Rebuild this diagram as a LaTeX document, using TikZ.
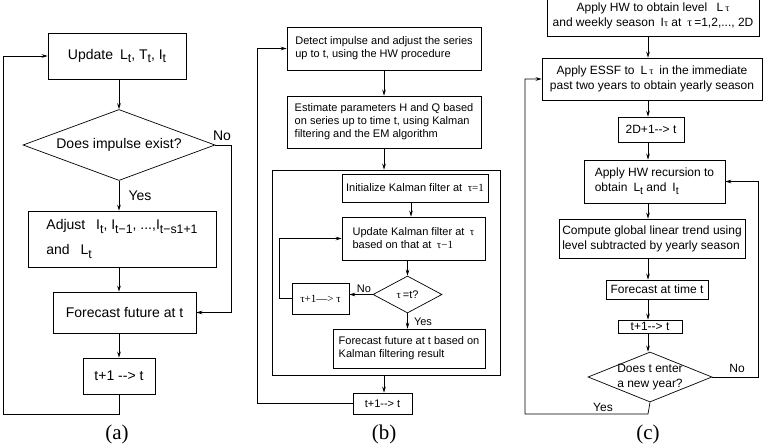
\documentclass[tikz,border=0pt]{standalone}
\usepackage{fontspec}
\usepackage{graphicx}
\setmainfont{Liberation Sans}
\newfontfamily\serf{Liberation Serif}
\usetikzlibrary{shapes.geometric,arrows.meta}
\newcommand{\tu}{{\serf τ}}
\newcommand{\tus}{{\serf\scalebox{0.85}{τ}}}
\newcommand{\sbt}[1]{\raisebox{-0.5ex}{\scalebox{0.88}{#1}}}
\begin{document}
\begin{tikzpicture}[x=1pt,y=-1pt,line width=0.7pt,
  box/.style={draw,rectangle,inner sep=0pt,align=center},
  lbox/.style={draw,rectangle,inner sep=0pt,align=left},
  dia/.style={draw,diamond,inner sep=0pt},
  arr/.style={-{Stealth[length=6pt,width=3.6pt]}},
  fa/.style={font=\fontsize{14}{17}\selectfont},
  fb/.style={font=\fontsize{11}{13}\selectfont},
  fc/.style={font=\fontsize{12}{15}\selectfont},
  captn/.style={font=\serf\fontsize{21}{21}\selectfont}]
\useasboundingbox (0,0) rectangle (766,444);
\clip (0,0) rectangle (766,444);

% ---------- panel (a) ----------
\node[box,fa,minimum width=138,minimum height=46] (a1) at (117,56) {Update\enspace L\sbt{t}, T\sbt{t}, I\sbt{t}};
\node[dia,minimum width=192,minimum height=71] (a2) at (119,145) {};
\node[fa] at (a2) {Does impulse exist?};
\node[lbox,font=\fontsize{14}{25}\selectfont,minimum width=188,minimum height=56] (a3) at (122,239) {Adjust\enspace\ I\sbt{t}, I\sbt{t−1}, ...,I\sbt{t−s1+1}\\and\enspace\ L\sbt{t}};
\node[box,fa,minimum width=143,minimum height=41] (a4) at (124.5,312.5) {Forecast future at t};
\node[box,fa,minimum width=72,minimum height=36] (a5) at (119,376) {t+1 -{}-> t};
\coordinate (aL) at (3,414);
\coordinate (aR) at (231,145);
\draw[arr] (a2.north |- a1.south) -- (a2.north);
\draw[arr] (a2.south) -- (a2.south |- a3.north);
\draw[arr] (a2.south |- a3.south) -- (a2.south |- a4.north);
\draw[arr] (a5.north |- a4.south) -- (a5.north);
\draw[arr] (a2.east) -- (aR) |- (a4.east);
\draw[arr] (a5.south) |- (aL) |- (a1.west);
\node[fa] at (222,136) {No};
\node[fa] at (140,196) {Yes};
\node[captn] at (117,434) {(a)};

% ---------- panel (b) ----------
\node[lbox,fb,minimum width=194,minimum height=43] (b1) at (384,48.5) {Detect impulse and adjust the series\\up to t, using the HW procedure};
\node[lbox,fb,minimum width=194,minimum height=52] (b2) at (384,122) {Estimate parameters H and Q based\\on series up to time t, using Kalman\\filtering and the EM algorithm};
\node[box,minimum width=228,minimum height=205] (b0) at (386,272.5) {};
\node[box,fb,minimum width=146,minimum height=28] (b3) at (415,188) {Initialize Kalman filter at\enspace {\serf τ=1}};
\node[lbox,fb,minimum width=143,minimum height=43] (b4) at (413.5,238.5) {Update Kalman filter at\enspace \tu\\based on that at\enspace {\serf τ−1}};
\node[dia,minimum width=69,minimum height=37] (b5) at (407.5,294.5) {};
\node[fb] at (b5) {\tu\,=t?};
\node[box,fb,minimum width=57,minimum height=31] (b6) at (320.5,298.5) {{\serf τ+1—> τ}};
\node[lbox,fb,minimum width=152,minimum height=39] (b7) at (409,348.5) {Forecast future at t based on\\Kalman filtering result};
\node[box,fb,minimum width=59,minimum height=21] (b8) at (382.5,403.5) {t+1-{}-> t};
\coordinate (bL) at (257,403.5);
\coordinate (bM) at (279,298.5);
\draw[arr] (b1.south) -- (b2.north);
\draw[arr] (b2.south) -- (b2.south |- b0.north);
\draw[arr] (b3.south -| 411,0) -- (b4.north -| 411,0);
\draw[arr] (b5.north |- b4.south) -- (b5.north);
\draw[arr] (b5.west) -- (b5.west -| b6.east);
\draw[arr] (b6.west) -- (bM) |- (b4.west);
\draw[arr] (b5.south) -- (b5.south |- b7.north);
\draw[arr] (b2.south |- b0.south) -- (b2.south |- b8.north);
\draw[arr] (b8.west) -- (bL) |- (b1.west);
\node[fb] at (364,289) {No};
\node[fb] at (423,322) {Yes};
\node[captn] at (384,434) {(b)};

% ---------- panel (c) ----------
\node[box,fc,minimum width=212,minimum height=40] (c1) at (653,16) {Apply HW to obtain level\enspace\ L\,\tus\\and weekly season\enspace I\tus\ at\enspace \tu\,=1,2,..., 2D};
\node[box,fc,minimum width=220,minimum height=42] (c2) at (652,79) {Apply ESSF to\enspace L\,\tus\enspace in the immediate\\past two years to obtain yearly season};
\node[box,fc,minimum width=66,minimum height=25] (c3) at (651,129.5) {2D+1-{}-> t};
\node[lbox,fc,minimum width=141,minimum height=43] (c4) at (654.5,181.5) {Apply HW recursion to\\obtain\enspace L\sbt{t} and\enspace I\sbt{t}};
\node[lbox,fc,minimum width=186,minimum height=39] (c5) at (652,238.5) {Compute global linear trend using\\level subtracted by yearly season};
\node[box,fc,minimum width=102,minimum height=19] (c6) at (657,289.5) {Forecast at time t};
\node[box,fc,minimum width=64,minimum height=13] (c7) at (650,326.5) {t+1-{}-> t};
\node[dia,minimum width=124,minimum height=50] (c8) at (650,377) {};
\node[fc,align=center] at (c8) {Does t enter\\a new year?};
\coordinate (cx) at (648,0);
\coordinate (cR) at (758,377);
\coordinate (cB) at (648,414);
\coordinate (cL) at (525,414);
\draw[arr] (cx |- c1.south) -- (cx |- c2.north);
\draw[arr] (cx |- c2.south) -- (cx |- c3.north);
\draw[arr] (cx |- c3.south) -- (cx |- c4.north);
\draw[arr] (cx |- c4.south) -- (cx |- c5.north);
\draw[arr] (cx |- c5.south) -- (cx |- c6.north);
\draw[arr] (cx |- c6.south) -- (cx |- c7.north);
\draw[arr] (cx |- c7.south) -- (cx |- c8.north);
\draw[arr] (c8.east) -- (cR) |- (c4.east);
\draw[arr] (c8.south) -- (cB) -- (cL) |- (c2.west);
\node[fc] at (737,368) {No};
\node[fc] at (603,407) {Yes};
\node[captn] at (648,434) {(c)};
\end{tikzpicture}
\end{document}
